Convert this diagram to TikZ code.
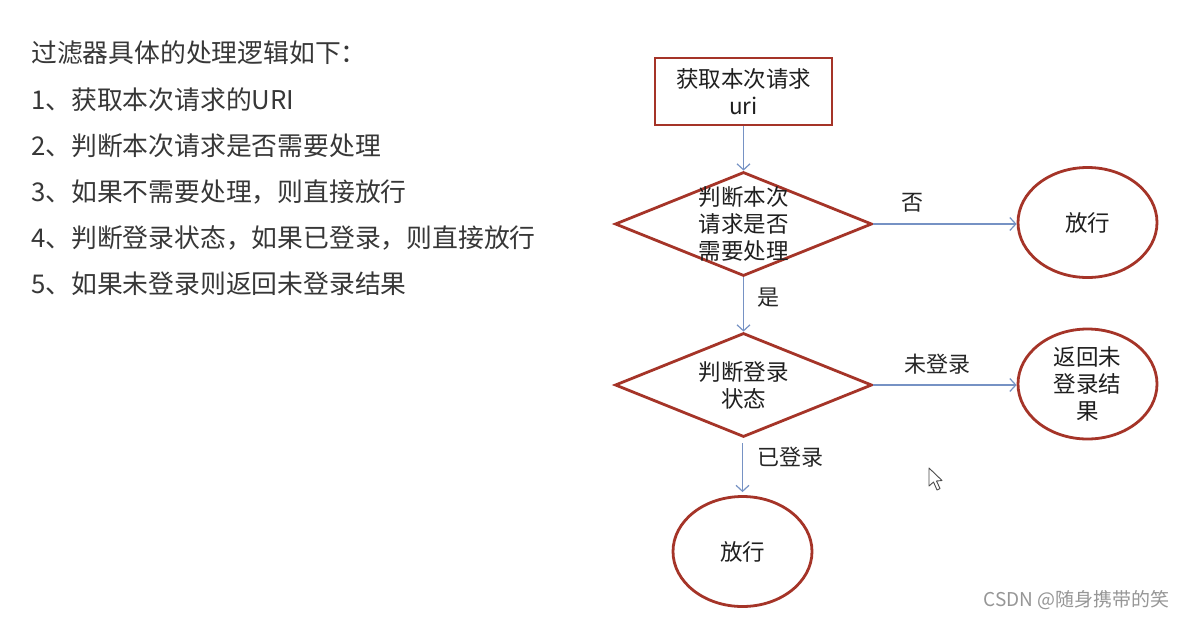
\documentclass[tikz,border=0pt]{standalone}
\usepackage{fontspec}
\setmainfont{Noto Sans CJK SC}
\usetikzlibrary{shapes.geometric,arrows.meta}
\definecolor{shapered}{RGB}{165,52,40}
\definecolor{arrowblue}{RGB}{118,146,196}
\definecolor{txtgray}{RGB}{55,55,55}
\definecolor{wmgray}{RGB}{150,150,150}
\tikzset{
  shapebox/.style={draw=shapered, line width=2.8pt, minimum width=177pt, minimum height=67pt, inner sep=0pt},
  decide/.style={diamond, draw=shapered, line width=2.8pt, minimum width=257pt, minimum height=104pt, inner sep=0pt},
  endoval/.style={ellipse, draw=shapered, line width=2.8pt, minimum width=139pt, minimum height=110pt, inner sep=0pt},
  ntext/.style={align=center, text=black!88, font=\fontsize{22.5}{27}\selectfont, inner sep=0pt},
  elabel/.style={text=black!85, font=\fontsize{22}{24}\selectfont, inner sep=0pt},
  flow/.style={draw=arrowblue, line width=1.2pt, -{Straight Barb[length=6pt,width=13pt,line width=1.2pt]}},
  listline/.style={anchor=west, text=txtgray, font=\fontsize{25.8}{30}\selectfont, inner sep=0pt}
}
\begin{document}
\begin{tikzpicture}[x=1pt,y=-1pt]
\useasboundingbox (0,0) rectangle (1185,619);
\fill[white] (0,0) rectangle (1185,619);

% left text
\node[listline] (t0) at (31,53) {过滤器具体的处理逻辑如下：};
\node[listline] (t1) at (31,100) {1、获取本次请求的URI};
\node[listline] (t2) at (31,146) {2、判断本次请求是否需要处理};
\node[listline] (t3) at (31,192) {3、如果不需要处理，则直接放行};
\node[listline] (t4) at (31,238) {4、判断登录状态，如果已登录，则直接放行};
\node[listline] (t5) at (31,284) {5、如果未登录则返回未登录结果};

% flowchart
\node[shapebox] (start) at (743.5,91.5) {};
\node[ntext] (startt) at (start.center) {获取本次请求\\uri};

\node[decide] (d1) at (743.5,224) {};
\node[ntext] (d1t) at (d1.center) {判断本次\\请求是否\\需要处理};

\node[endoval] (e1) at (1087.5,222.5) {};
\node[ntext] (e1t) at (e1.center) {放行};

\node[decide] (d2) at (743.5,385) {};
\node[ntext] (d2t) at (d2.center) {判断登录\\状态};

\node[endoval] (e2) at (1087.5,384) {};
\node[ntext] (e2t) at (e2.center) {返回未\\登录结\\果};

\node[endoval] (e3) at (742.5,551.5) {};
\node[ntext] (e3t) at (e3.center) {放行};

% connectors
\draw[flow] (start.south) -- (d1.north);
\draw[flow] (d1.east) -- (e1.west |- d1.east);
\draw[flow] (d1.south) -- (d2.north);
\draw[flow] (d2.east) -- (e2.west |- d2.east);
\draw[flow, shorten <=5pt, shorten >=3pt] (d2.south -| e3.north) -- (e3.north);

% edge labels
\node[elabel] (lno) at (912,203) {否};
\node[elabel] (lyes) at (768,298) {是};
\node[elabel] (lnot) at (937,364) {未登录};
\node[elabel] (lin) at (790,457) {已登录};

% mouse cursor
\filldraw[fill=white, draw=black!70, line width=0.9pt, line join=round]
  (929,468) -- (929,486) -- (933.5,482) -- (937,490) -- (940,488.5) -- (936.5,481) -- (942,480.5) -- cycle;

% watermark
\node[anchor=east, text=wmgray, font=\fontsize{19}{21}\selectfont, inner sep=0pt] (wm) at (1170,600) {CSDN @随身携带的笑};
\end{tikzpicture}
\end{document}
